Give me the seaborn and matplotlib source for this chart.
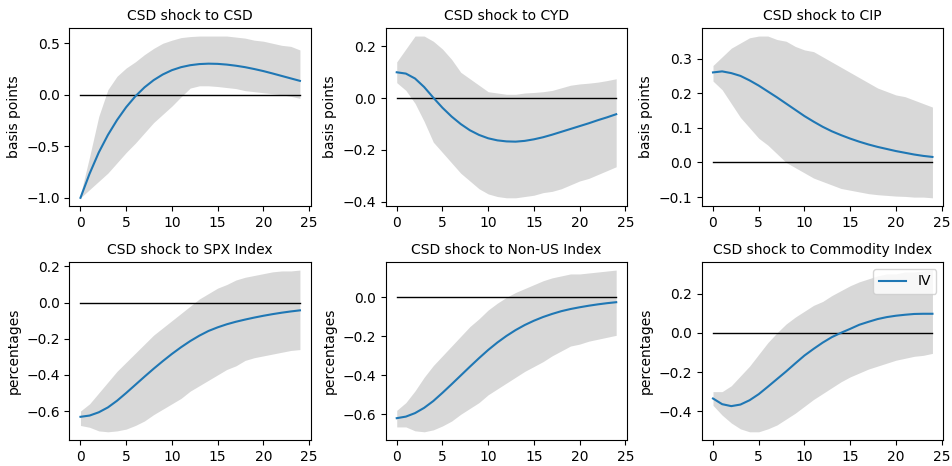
import numpy as np
import pandas as pd
import matplotlib
matplotlib.use("Agg")
import matplotlib.pyplot as plt
import seaborn as sns

horizon = list(range(25))

titles = ["CSD shock to CSD", "CSD shock to CYD", "CSD shock to CIP",
          "CSD shock to SPX Index", "CSD shock to Non-US Index",
          "CSD shock to Commodity Index"]
ylabels = ["basis points"] * 3 + ["percentages"] * 3

# Impulse responses (IV) and confidence bands
csd_irf = [-1.0, -0.765, -0.56, -0.39, -0.245, -0.12, -0.015, 0.072, 0.142, 0.197,
           0.239, 0.268, 0.287, 0.298, 0.302, 0.3, 0.293, 0.282, 0.268, 0.25,
           0.23, 0.207, 0.183, 0.159, 0.135]
csd_lo = [-1.0, -0.92, -0.84, -0.76, -0.66, -0.56, -0.47, -0.37, -0.27, -0.19,
          -0.11, -0.02, 0.065, 0.087, 0.087, 0.08, 0.07, 0.06, 0.04, 0.03,
          0.02, 0.01, 0.0, -0.015, -0.035]
csd_hi = [-0.97, -0.6, -0.21, 0.05, 0.18, 0.26, 0.32, 0.39, 0.45, 0.50,
          0.53, 0.555, 0.565, 0.57, 0.57, 0.57, 0.57, 0.56, 0.55, 0.53,
          0.52, 0.50, 0.48, 0.47, 0.435]

cyd_irf = [0.10, 0.095, 0.076, 0.043, 0.002, -0.037, -0.071, -0.10, -0.124, -0.142,
           -0.155, -0.163, -0.167, -0.168, -0.165, -0.159, -0.151, -0.141, -0.13, -0.119,
           -0.108, -0.097, -0.085, -0.074, -0.062]
cyd_lo = [0.06, 0.03, -0.02, -0.09, -0.17, -0.21, -0.25, -0.29, -0.32, -0.35,
          -0.37, -0.38, -0.385, -0.385, -0.38, -0.375, -0.365, -0.36, -0.35, -0.335,
          -0.32, -0.31, -0.295, -0.28, -0.265]
cyd_hi = [0.14, 0.19, 0.24, 0.24, 0.22, 0.19, 0.15, 0.10, 0.075, 0.05,
          0.025, 0.02, 0.015, 0.015, 0.02, 0.022, 0.025, 0.03, 0.04, 0.05,
          0.055, 0.058, 0.062, 0.068, 0.075]

cip_irf = [0.26, 0.263, 0.258, 0.25, 0.237, 0.222, 0.205, 0.188, 0.17, 0.152,
           0.134, 0.118, 0.103, 0.09, 0.079, 0.069, 0.06, 0.052, 0.045, 0.039,
           0.033, 0.028, 0.023, 0.019, 0.016]
cip_lo = [0.235, 0.21, 0.17, 0.13, 0.10, 0.07, 0.05, 0.025, 0.0, -0.015,
          -0.03, -0.045, -0.055, -0.065, -0.075, -0.08, -0.085, -0.09, -0.093, -0.095,
          -0.097, -0.098, -0.10, -0.10, -0.102]
cip_hi = [0.28, 0.305, 0.33, 0.345, 0.36, 0.365, 0.365, 0.355, 0.35, 0.335,
          0.325, 0.32, 0.305, 0.29, 0.275, 0.26, 0.245, 0.23, 0.215, 0.205,
          0.195, 0.19, 0.18, 0.17, 0.16]

spx_irf = [-0.632, -0.625, -0.607, -0.58, -0.543, -0.5, -0.455, -0.41, -0.366, -0.324,
           -0.284, -0.247, -0.213, -0.183, -0.157, -0.137, -0.12, -0.106, -0.094, -0.083,
           -0.073, -0.064, -0.056, -0.049, -0.043]
spx_lo = [-0.68, -0.69, -0.71, -0.715, -0.71, -0.70, -0.68, -0.655, -0.62, -0.59,
          -0.56, -0.53, -0.49, -0.46, -0.43, -0.40, -0.37, -0.35, -0.32, -0.305,
          -0.295, -0.285, -0.275, -0.265, -0.26]
spx_hi = [-0.60, -0.56, -0.50, -0.44, -0.38, -0.33, -0.28, -0.23, -0.18, -0.14,
          -0.10, -0.06, -0.02, 0.02, 0.05, 0.08, 0.10, 0.125, 0.14, 0.15,
          0.16, 0.17, 0.175, 0.175, 0.18]

nonus_irf = [-0.62, -0.612, -0.594, -0.567, -0.532, -0.49, -0.446, -0.401, -0.356, -0.312,
             -0.27, -0.232, -0.198, -0.168, -0.142, -0.12, -0.101, -0.085, -0.071, -0.06,
             -0.051, -0.043, -0.036, -0.03, -0.025]
nonus_lo = [-0.665, -0.665, -0.685, -0.69, -0.68, -0.66, -0.635, -0.60, -0.57, -0.54,
            -0.50, -0.47, -0.44, -0.41, -0.38, -0.355, -0.33, -0.30, -0.275, -0.25,
            -0.24, -0.225, -0.215, -0.205, -0.195]
nonus_hi = [-0.58, -0.54, -0.48, -0.41, -0.35, -0.30, -0.25, -0.20, -0.15, -0.11,
            -0.065, -0.03, 0.0, 0.025, 0.045, 0.065, 0.085, 0.10, 0.11, 0.12,
            0.12, 0.125, 0.13, 0.135, 0.14]

comm_irf = [-0.335, -0.364, -0.374, -0.366, -0.344, -0.313, -0.275, -0.236, -0.197, -0.156,
            -0.116, -0.082, -0.05, -0.022, 0.0, 0.02, 0.041, 0.056, 0.07, 0.08,
            0.087, 0.092, 0.096, 0.097, 0.097]
comm_lo = [-0.37, -0.42, -0.46, -0.49, -0.505, -0.505, -0.49, -0.47, -0.44, -0.41,
           -0.375, -0.34, -0.31, -0.28, -0.25, -0.225, -0.205, -0.185, -0.17, -0.155,
           -0.14, -0.13, -0.12, -0.115, -0.105]
comm_hi = [-0.30, -0.30, -0.27, -0.22, -0.17, -0.11, -0.05, 0.0, 0.045, 0.08,
           0.11, 0.14, 0.16, 0.19, 0.215, 0.24, 0.26, 0.275, 0.29, 0.30,
           0.30, 0.31, 0.31, 0.315, 0.32]

responses = [csd_irf, cyd_irf, cip_irf, spx_irf, nonus_irf, comm_irf]
lowers = [csd_lo, cyd_lo, cip_lo, spx_lo, nonus_lo, comm_lo]
uppers = [csd_hi, cyd_hi, cip_hi, spx_hi, nonus_hi, comm_hi]

fig, axes = plt.subplots(2, 3, figsize=(9.52, 4.66), dpi=100)
fig.subplots_adjust(left=0.073, right=0.991, top=0.94, bottom=0.056,
                    wspace=0.31, hspace=0.315)

for i, ax in enumerate(axes.flat):
    df = pd.DataFrame({"h": horizon, "IV": responses[i]})
    ax.fill_between(horizon, lowers[i], uppers[i], color="grey", alpha=0.3,
                    linewidth=0)
    ax.plot(horizon, np.zeros(len(horizon)), color="black", linewidth=1)
    sns.lineplot(data=df, x="h", y="IV", ax=ax, color="#1f77b4",
                 linewidth=1.5, label="IV" if i == 5 else None,
                 legend=(i == 5))
    ax.set_title(titles[i], fontsize=10)
    ax.set_ylabel(ylabels[i], fontsize=10)
    ax.set_xlabel("")
    ax.set_xticks([0, 5, 10, 15, 20, 25])

axes.flat[5].legend(loc="upper right")

fig.savefig("out.png", dpi=100)
